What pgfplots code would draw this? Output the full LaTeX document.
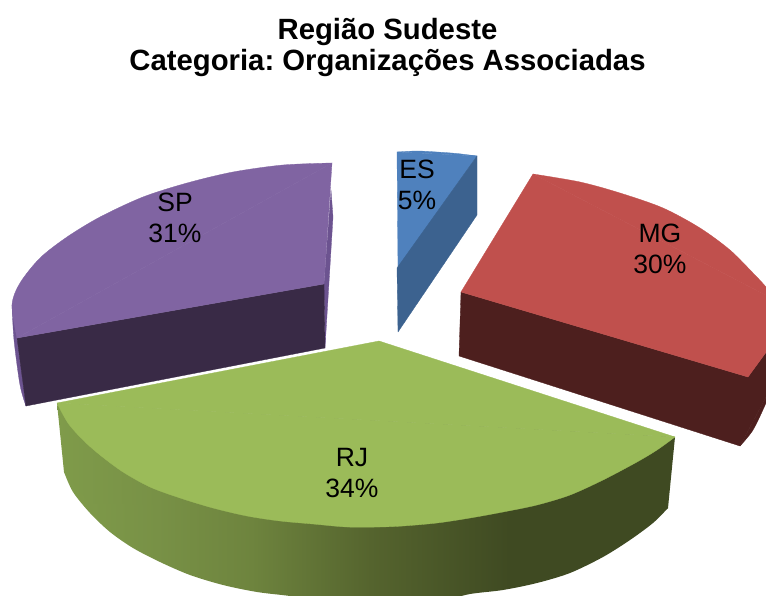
\documentclass[border=0pt]{standalone}
\usepackage{fontspec}
\setmainfont{Liberation Sans}
\usepackage{pgfplots}
\pgfplotsset{compat=1.18}
\frenchspacing
\definecolor{esTop}{HTML}{4F81BD}
\definecolor{esDark}{HTML}{3C628F}
\definecolor{mgTop}{HTML}{C0504D}
\definecolor{mgDark}{HTML}{4D1F1E}
\definecolor{spTop}{HTML}{8064A2}
\definecolor{spDark}{HTML}{392A46}
\definecolor{spEdge}{HTML}{6C5390}
\definecolor{rjTop}{HTML}{9BBB59}
% side of RJ: wall polygon spans x 57..675, outer arc spans x 64..668
\pgfdeclarehorizontalshading{rjwall}{100bp}{
  rgb(0bp)=(0.498,0.608,0.290);
  rgb(25bp)=(0.498,0.608,0.290);
  rgb(33bp)=(0.471,0.569,0.275);
  rgb(40.6bp)=(0.431,0.518,0.243);
  rgb(50.3bp)=(0.333,0.392,0.180);
  rgb(61.6bp)=(0.247,0.290,0.133);
  rgb(100bp)=(0.247,0.290,0.133)}
\pgfdeclarehorizontalshading{rjarc}{100bp}{
  rgb(0bp)=(0.498,0.608,0.290);
  rgb(25bp)=(0.498,0.608,0.290);
  rgb(32.6bp)=(0.471,0.569,0.275);
  rgb(40.5bp)=(0.431,0.518,0.243);
  rgb(50.4bp)=(0.333,0.392,0.180);
  rgb(61.9bp)=(0.247,0.290,0.133);
  rgb(100bp)=(0.247,0.290,0.133)}
\begin{document}
\begin{tikzpicture}
\useasboundingbox (0,0) rectangle (766pt,596pt);
\begin{axis}[
    at={(0,0)}, anchor=south west,
    scale only axis, width=766pt, height=596pt,
    xmin=0, xmax=766, ymin=0, ymax=596,
    y dir=reverse,
    hide axis,
    every axis plot/.append style={line join=round, line width=0.3pt},
]
% ES
\addplot[smooth, fill=esTop, draw=esTop] coordinates {
    (397,152)(417,151)(437,152)(457,153.5)(477,156)
    } -- cycle;
\addplot[fill=esTop, draw=esTop] coordinates {
    (397,152)(477,156)(398,268)
    } -- cycle;
\addplot[fill=esDark, draw=esDark] coordinates {
    (477,156)(477,215)(398,332)(397,268)
    } -- cycle;
% SP
\addplot[fill=spEdge, draw=spEdge] coordinates {
    (331,190)(333,217)(325,348)(324,284)
    } -- cycle;
\addplot[smooth, fill=spEdge, draw=spEdge] coordinates {
    (12,305)(14,340)(20,385)(26,406)
    } -- cycle;
\addplot[fill=spEdge, draw=spEdge] coordinates {
    (12,305)(26,406)(17,338)
    } -- cycle;
\addplot[fill=spDark, draw=spDark] coordinates {
    (17,338)(324,284)(325,348)(26,406)
    } -- cycle;
\addplot[smooth, fill=spTop, draw=spTop] coordinates {
    (332,163)(283,165)(233,172)(187,183)(143,197)
    (100,217)(67,237)(40,258)(20,283)(12,305)(17,338)
    } -- cycle;
\addplot[fill=spTop, draw=spTop] coordinates {
    (332,163)(17,338)(324,284)
    } -- cycle;
% MG
\addplot[smooth, fill=mgDark, draw=mgDark] coordinates {
    (740,446)(753,430)(766,403)(775,380)
    } -- cycle;
\addplot[fill=mgDark, draw=mgDark] coordinates {
    (461,292)(459,356)(740,446)(775,380)(775,340)(748,377)
    } -- cycle;
\addplot[smooth, fill=mgTop, draw=mgTop] coordinates {
    (533,174)(580,182)(620,193)(663,208)(700,228)
    (730,250)(753,273)(766,287)(775,300)
    } -- cycle;
\addplot[fill=mgTop, draw=mgTop] coordinates {
    (533,174)(775,300)(775,340)(748,377)(461,292)
    } -- cycle;
% RJ
\addplot[smooth, shading=rjarc, draw=none] coordinates {
    (64,472)(73,492)(90,513)(110,532)(133,548)(160,562)
    (190,575)(223,585)(257,592)(290,596)(330,602)
    (430,602)(470,594)(503,590)(537,583)(570,573)(603,557)(630,540)(653,523)(668,508)
    } -- cycle;
\addplot[shading=rjwall, draw=none] coordinates {
    (57,403)(64,472)(90,503)(366,510)(640,525)(668,508)(675,437)
    } -- cycle;
\addplot[smooth, fill=rjTop, draw=rjTop] coordinates {
    (675,437)(657,450)(637,462)(603,480)(570,495)(537,505)
    (503,512)(470,518)(437,523)(403,526)(380,527)(347,527)(313,524)(280,521)(247,516)(213,508)
    (180,498)(150,487)(123,472)(100,455)(83,440)(68,423)(57,403)
    } -- cycle;
\addplot[fill=rjTop, draw=rjTop] coordinates {
    (379,341)(675,437)(57,403)
    } -- cycle;
\node[align=center, font=\bfseries\fontsize{29.3}{31}\selectfont] at (axis cs:387.5,47.5) {Região Sudeste\\Categoria: Organizações Associadas};
\node[align=center, font=\fontsize{26.5}{31}\selectfont] at (axis cs:417,185) {ES\\5\%};
\node[align=center, font=\fontsize{26.5}{31}\selectfont] at (axis cs:175,218) {SP\\31\%};
\node[align=center, font=\fontsize{26.5}{31}\selectfont] at (axis cs:660,249) {MG\\30\%};
\node[align=center, font=\fontsize{26.5}{31}\selectfont] at (axis cs:352,473.5) {RJ\\34\%};
\end{axis}
\end{tikzpicture}
\end{document}
